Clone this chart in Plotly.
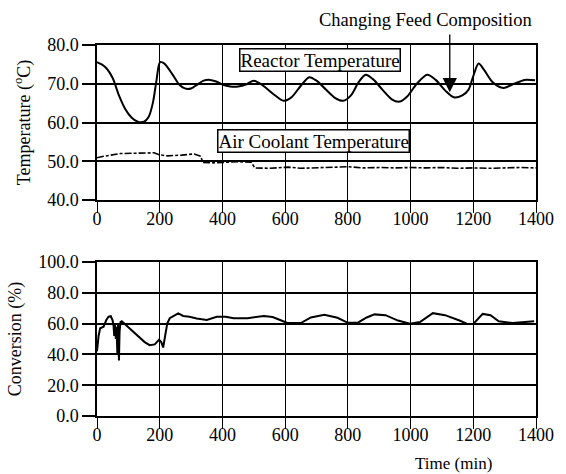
import plotly.graph_objects as go
from plotly.subplots import make_subplots

# Reactor temperature (top panel, solid)
t_reactor = [0, 15, 30, 50, 70, 90, 110, 130, 150, 165, 178, 190, 201, 215, 240, 262, 280, 300,
             320, 340, 360, 380, 400, 425, 450, 475, 500, 530, 560, 595, 620, 650, 677, 700, 730,
             760, 785, 810, 835, 857, 880, 910, 940, 965, 990, 1020, 1053, 1080, 1110, 1138, 1165,
             1185, 1200, 1217, 1235, 1262, 1296, 1330, 1364, 1397]
T_reactor = [75.6, 75.0, 74.0, 71.5, 67.0, 63.5, 61.3, 60.2, 60.2, 61.5, 65.0, 71.0, 75.6, 75.2,
             72.5, 69.8, 68.8, 68.8, 69.8, 70.8, 71.0, 70.6, 69.8, 69.3, 69.3, 69.8, 70.8, 69.5,
             67.5, 65.6, 66.5, 69.5, 71.7, 70.8, 68.5, 66.3, 65.6, 67.0, 70.5, 72.3, 71.2, 68.5,
             66.0, 65.4, 66.8, 70.0, 72.3, 71.0, 68.3, 66.5, 67.0, 68.5, 72.0, 75.2, 73.5, 70.4,
             68.9, 70.0, 71.0, 70.9]

# Air coolant temperature (top panel, dashed)
t_coolant = [0, 21, 75, 130, 182, 198, 225, 270, 310, 331, 337, 370, 406, 450, 492, 503, 550, 588,
             610, 650, 700, 750, 800, 850, 900, 950, 1000, 1050, 1100, 1150, 1200, 1250, 1300,
             1350, 1400]
T_coolant = [50.9, 51.3, 52.0, 52.2, 52.2, 51.7, 51.4, 51.6, 51.9, 51.3, 49.7, 49.6, 49.8, 49.9,
             49.8, 48.3, 48.2, 48.3, 48.5, 48.2, 48.3, 48.4, 48.6, 48.3, 48.4, 48.3, 48.4, 48.3,
             48.4, 48.2, 48.3, 48.2, 48.3, 48.4, 48.3]

# Conversion (bottom panel)
t_conv = [0, 3, 5, 10, 21, 30, 37, 44, 50, 53, 55, 57, 60, 62, 65, 67, 70, 72, 75, 79, 90, 105,
          120, 137, 152, 168, 184, 198, 205, 211, 218, 224, 232, 245, 259, 275, 295, 318, 350,
          382, 410, 436, 480, 532, 560, 586, 607, 650, 682, 725, 767, 800, 832, 860, 885, 920,
          960, 998, 1030, 1071, 1110, 1156, 1179, 1200, 1230, 1255, 1281, 1326, 1360, 1394]
conversion = [42, 48, 52, 57, 58, 62.5, 64.5, 64.8, 62, 58, 52, 60, 50, 58, 41, 60, 36, 55, 61,
              61.5, 59.5, 56.5, 53.5, 50.5, 48, 46, 46.5, 49.5, 48, 44.5, 52, 60, 63.5, 65, 66.7,
              65, 64.5, 63.3, 62.4, 64.4, 64.5, 63.5, 63.5, 65, 64.3, 62.2, 60.4, 60.4, 64, 65.8,
              63.8, 60.5, 60.6, 64, 66, 65.5, 62, 60, 61, 66.8, 65.5, 62, 60, 59.8, 66.3, 65.5,
              61.5, 60.4, 60.8, 61.5]

x_ticks = [0, 200, 400, 600, 800, 1000, 1200, 1400]
temp_ticks = [40, 50, 60, 70, 80]
conv_ticks = [0, 20, 40, 60, 80, 100]

FONT = "Liberation Serif"

fig = make_subplots(rows=2, cols=1)

fig.add_trace(go.Scatter(x=t_reactor, y=T_reactor, mode="lines",
                         line=dict(color="black", width=2, shape="spline", smoothing=0.8),
                         showlegend=False), row=1, col=1)
fig.add_trace(go.Scatter(x=t_coolant, y=T_coolant, mode="lines",
                         line=dict(color="black", width=1.6, dash="7px,2px,3px,2px"),
                         showlegend=False), row=1, col=1)
fig.add_trace(go.Scatter(x=t_conv, y=conversion, mode="lines",
                         line=dict(color="black", width=2),
                         showlegend=False), row=2, col=1)

xcommon = dict(range=[0, 1400], tickvals=x_ticks, ticks="outside", ticklen=11, tickwidth=1,
               tickcolor="black", showgrid=True, gridcolor="black", gridwidth=1,
               showline=True, linecolor="black", linewidth=1.5, mirror=True, zeroline=False,
               ticklabelstandoff=-9,
               tickfont=dict(family=FONT, size=18, color="black"))
fig.update_xaxes(**xcommon)
fig.update_layout(xaxis=dict(domain=[0, 1]), xaxis2=dict(domain=[0, 1]))

ycommon = dict(ticks="outside", ticklen=13, tickwidth=2, tickcolor="black", showgrid=True,
               gridcolor="black", gridwidth=2, showline=True, linecolor="black", linewidth=1.5,
               mirror=True, zeroline=False, tickformat=".1f",
               tickfont=dict(family=FONT, size=18, color="black"))
fig.update_yaxes(**ycommon)
fig.update_layout(
    yaxis=dict(domain=[0.582, 1], range=[40, 80], tickvals=temp_ticks,
               title=dict(text="Temperature (<sup>o</sup>C)", standoff=12,
                          font=dict(family=FONT, size=18, color="black"))),
    yaxis2=dict(domain=[0, 0.415], range=[0, 100], tickvals=conv_ticks,
                title=dict(text="Conversion (%)", standoff=12,
                           font=dict(family=FONT, size=18, color="black"))),
)

fig.add_annotation(x=710, y=76.2, xref="x", yref="y", text="Reactor Temperature",
                   showarrow=False, bgcolor="white", bordercolor="black", borderwidth=1.5,
                   borderpad=0, font=dict(family=FONT, size=19, color="black"))
fig.add_annotation(x=691, y=55.3, xref="x", yref="y", text="Air Coolant Temperature",
                   showarrow=False, bgcolor="white", bordercolor="black", borderwidth=1.5,
                   borderpad=0, font=dict(family=FONT, size=19, color="black"))
fig.add_annotation(x=1049, y=1.068, xref="x", yref="paper", yanchor="middle",
                   text="Changing Feed Composition", showarrow=False,
                   font=dict(family=FONT, size=18.5, color="black"))
fig.add_annotation(x=1125, y=67.8, xref="x", yref="y", ax=1125, ay=83.1, axref="x", ayref="y",
                   text="", showarrow=True, arrowhead=2, arrowsize=2.2, arrowwidth=1.3,
                   arrowcolor="black")
fig.add_annotation(x=0.905, y=-0.127, xref="paper", yref="paper", yanchor="middle",
                   text="Time (min)", showarrow=False,
                   font=dict(family=FONT, size=17, color="black"))

fig.update_layout(width=566, height=474, margin=dict(l=97, r=23, t=45, b=58),
                  paper_bgcolor="white", plot_bgcolor="white",
                  font=dict(family=FONT, color="black"))

fig.write_html("out.html")
